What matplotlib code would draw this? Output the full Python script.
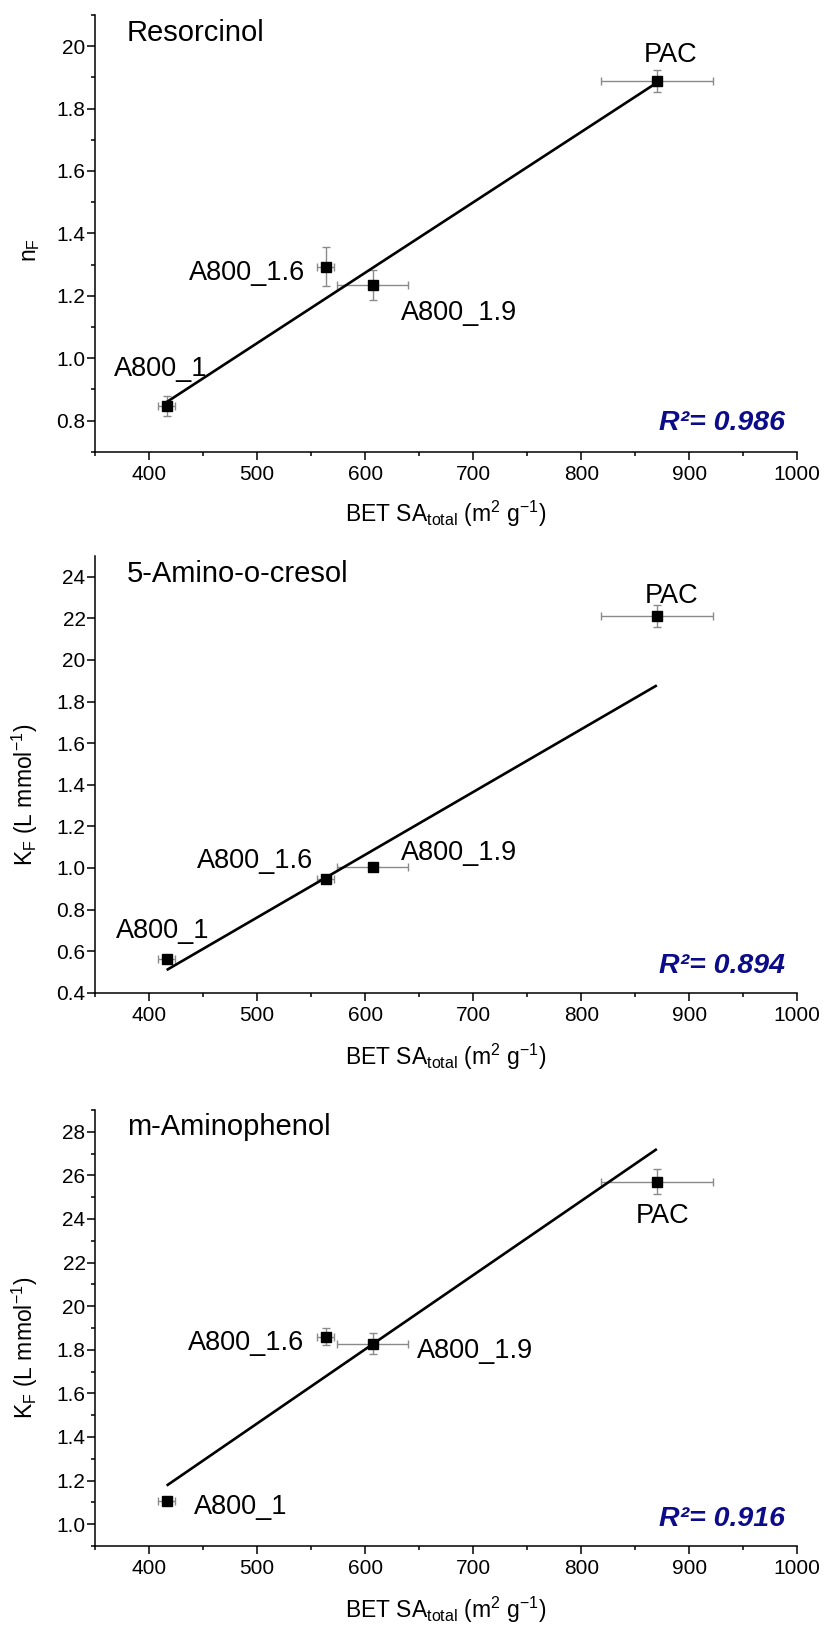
import numpy as np
import matplotlib
matplotlib.use("Agg")
import matplotlib.pyplot as plt
from matplotlib.ticker import FixedLocator, FixedFormatter

plt.rcParams["font.family"] = ["Liberation Sans", "DejaVu Sans"]
plt.rcParams["mathtext.fontset"] = "custom"
plt.rcParams["mathtext.rm"] = "Liberation Sans"
plt.rcParams["mathtext.it"] = "Liberation Sans:italic"
plt.rcParams["mathtext.bf"] = "Liberation Sans:bold"

# ---- data -----------------------------------------------------------------
samples = ["A800_1", "A800_1.6", "A800_1.9", "PAC"]
bet_sa = [416.3, 563.5, 607.0, 870.0]          # m2 g-1
bet_sa_err = [8.0, 8.0, 33.0, 52.0]

resorcinol_nf = [0.848, 1.293, 1.234, 1.888]
resorcinol_nf_err = [0.032, 0.062, 0.048, 0.036]
resorcinol_fit = [0.859, 1.883]
resorcinol_r2 = "0.986"

cresol_kf = [0.563, 0.949, 1.003, 2.212]
cresol_kf_err = [0.010, 0.010, 0.006, 0.054]
cresol_fit = [0.509, 1.878]
cresol_r2 = "0.894"

aminophenol_kf = [1.107, 1.861, 1.828, 2.572]
aminophenol_kf_err = [0.020, 0.037, 0.048, 0.059]
aminophenol_fit = [1.177, 2.721]
aminophenol_r2 = "0.916"

x_ticks = [400, 500, 600, 700, 800, 900, 1000]
x_tick_labels = ["400", "500", "600", "700", "800", "900", "1000"]

y_ticks_1 = [0.8, 1.0, 1.2, 1.4, 1.6, 1.8, 2.0]
y_tick_labels_1 = ["0.8", "1.0", "1.2", "1.4", "1.6", "1.8", "20"]
y_ticks_2 = [0.4, 0.6, 0.8, 1.0, 1.2, 1.4, 1.6, 1.8, 2.0, 2.2, 2.4]
y_tick_labels_2 = ["0.4", "0.6", "0.8", "1.0", "1.2", "1.4", "1.6", "1.8", "20", "22", "24"]
y_ticks_3 = [1.0, 1.2, 1.4, 1.6, 1.8, 2.0, 2.2, 2.4, 2.6, 2.8]
y_tick_labels_3 = ["1.0", "1.2", "1.4", "1.6", "1.8", "20", "22", "24", "26", "28"]

# ---- layout ---------------------------------------------------------------
W, H = 827, 1628
X_LEFT, X_RIGHT = 95, 797.3
R2_COLOR = "#0c0c8a"
ERR_COLOR = "#8a8a8a"

panels = [
    dict(title="Resorcinol", y=resorcinol_nf, yerr=resorcinol_nf_err,
         fit=resorcinol_fit, r2=resorcinol_r2, ylim=(0.7, 2.1),
         yticks=y_ticks_1, ylabels=y_tick_labels_1,
         ylabel=r"n$_\mathregular{F}$",
         top=15, bottom=451.7, title_base=40.7, r2_y=423.3,
         xlabel_y=514, ylabel_pos=(30, 250),
         offsets=[((-52.7, 30), "left"), ((-20, -13.3), "right"),
                  ((28, -35), "left"), ((14, 19), "center")]),
    dict(title="5-Amino-o-cresol", y=cresol_kf, yerr=cresol_kf_err,
         fit=cresol_fit, r2=cresol_r2, ylim=(0.4, 2.5),
         yticks=y_ticks_2, ylabels=y_tick_labels_2,
         ylabel=r"K$_\mathregular{F}$ (L mmol$^\mathregular{-1}$)",
         top=556, bottom=992.7, title_base=581.7, r2_y=965.8,
         xlabel_y=1057, ylabel_pos=(25, 795),
         offsets=[((-51, 20.4), "left"), ((-12.7, 10.7), "right"),
                  ((28.7, 7.7), "left"), ((14.5, 12.7), "center")]),
    dict(title="m-Aminophenol", y=aminophenol_kf, yerr=aminophenol_kf_err,
         fit=aminophenol_fit, r2=aminophenol_r2, ylim=(0.9, 2.9),
         yticks=y_ticks_3, ylabels=y_tick_labels_3,
         ylabel=r"K$_\mathregular{F}$ (L mmol$^\mathregular{-1}$)",
         top=1110, bottom=1546, title_base=1135, r2_y=1519.2,
         xlabel_y=1610, ylabel_pos=(25, 1348),
         offsets=[((27.6, -13.3), "left"), ((-21.7, -13.3), "right"),
                  ((44, -14.3), "left"), ((6, -41), "center")]),
]

fig = plt.figure(figsize=(W / 100, H / 100), dpi=100)

fit_x = [min(bet_sa), max(bet_sa)]

for p in panels:
    ax = fig.add_axes([X_LEFT / W, 1 - p["bottom"] / H,
                       (X_RIGHT - X_LEFT) / W, (p["bottom"] - p["top"]) / H])
    ax.errorbar(bet_sa, p["y"], xerr=bet_sa_err, yerr=p["yerr"], fmt="none",
                ecolor=ERR_COLOR, elinewidth=1.0, capsize=3.2, capthick=1.0,
                zorder=2)
    ax.plot(fit_x, p["fit"], color="black", lw=1.9, zorder=3,
            solid_capstyle="butt")
    ax.plot(bet_sa, p["y"], "s", color="black", ms=6.5, zorder=4)

    ax.set_xlim(350, 1000)
    ax.set_ylim(*p["ylim"])
    ax.spines["top"].set_visible(False)
    ax.spines["right"].set_visible(False)
    for s in ("left", "bottom"):
        ax.spines[s].set_linewidth(1.1)

    ax.xaxis.set_major_locator(FixedLocator(x_ticks))
    ax.xaxis.set_major_formatter(FixedFormatter(x_tick_labels))
    ax.xaxis.set_minor_locator(FixedLocator([350, 450, 550, 650, 750, 850, 950]))
    ax.yaxis.set_major_locator(FixedLocator(p["yticks"]))
    ax.yaxis.set_major_formatter(FixedFormatter(p["ylabels"]))
    lo, hi = p["ylim"]
    minor = [round(lo + 0.2 * i, 2) for i in range(int(round((hi - lo) / 0.2)) + 1)]
    ax.yaxis.set_minor_locator(FixedLocator(minor))

    ax.tick_params(which="major", direction="out", length=6, width=1.1,
                   labelsize=15)
    ax.tick_params(which="minor", direction="out", length=3, width=1.1)
    ax.tick_params(axis="x", which="major", pad=3.5)
    ax.tick_params(axis="y", which="major", pad=0.8)

    for name, xv, yv, (off, ha) in zip(samples, bet_sa, p["y"], p["offsets"]):
        ax.annotate(name, (xv, yv), xytext=off, textcoords="offset pixels",
                    ha=ha, va="baseline", fontsize=19.5)

    fig.text(126.7 / W, 1 - p["title_base"] / H, p["title"], ha="left",
             va="baseline", fontsize=21)
    fig.text(785 / W, 1 - p["r2_y"] / H, "R\u00b2= " + p["r2"], ha="right",
             va="center", fontsize=20.5, fontweight="bold", style="italic",
             color=R2_COLOR)
    fig.text((X_LEFT + X_RIGHT) / 2 / W, 1 - p["xlabel_y"] / H,
             r"BET SA$_\mathregular{total}$ (m$^\mathregular{2}$ g$^\mathregular{-1}$)",
             ha="center", va="center", fontsize=16.5)
    fig.text(p["ylabel_pos"][0] / W, 1 - p["ylabel_pos"][1] / H, p["ylabel"],
             rotation=90, ha="center", va="center", fontsize=16.5)

fig.savefig("out.png", dpi=100)
